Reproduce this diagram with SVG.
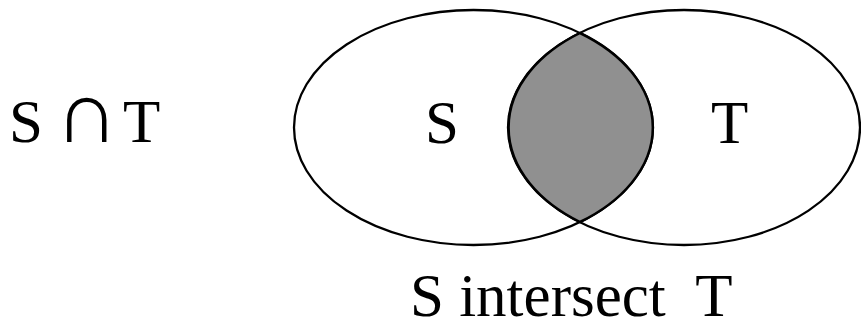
<svg xmlns="http://www.w3.org/2000/svg" width="861" height="322" viewBox="0 0 861 322">
<style>
.t{font-family:"Liberation Serif","Times New Roman",serif;font-size:61px;fill:#000;white-space:pre}
.e{fill:none;stroke:#000;stroke-width:2.3}
</style>
<rect width="861" height="322" fill="#fff"/>
<g id="formula"><text class="t" x="9" y="142">S</text><text class="t" x="55" y="142" style="font-size:88px">∩</text><text class="t" x="123" y="142">T</text></g>
<g id="setS"><ellipse class="e" cx="473.5" cy="127.5" rx="179.5" ry="117.5"/><text class="t" x="425" y="143">S</text></g>
<g id="setT"><ellipse class="e" cx="684" cy="127.5" rx="176" ry="117.5"/><text class="t" x="711" y="143">T</text></g>
<g id="intersection"><path d="M580,33 A179.5,117.5 0 0 1 580,222 A176,117.5 0 0 1 580,33 Z" fill="#909090" stroke="#000" stroke-width="2.5"/></g>
<g id="caption"><text class="t" x="410" y="316">S intersect  T</text></g>
</svg>
